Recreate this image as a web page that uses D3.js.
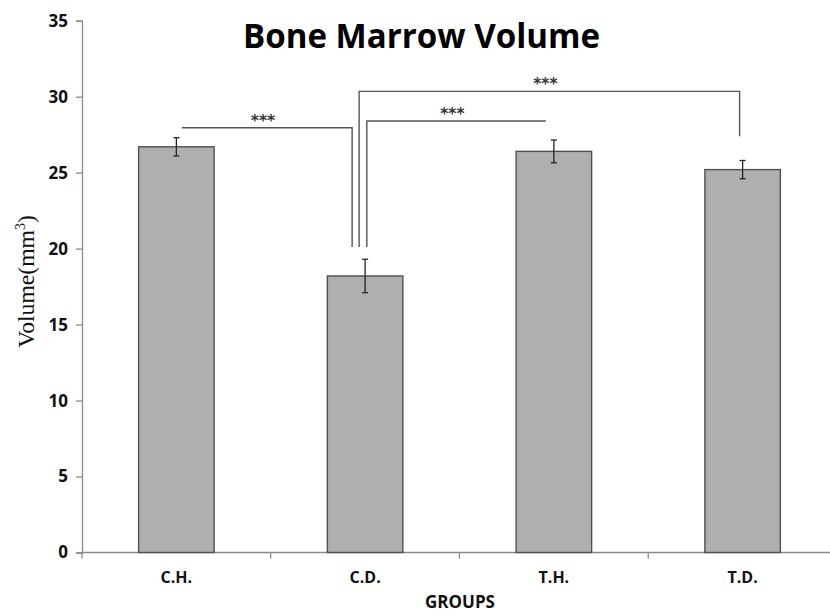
<!DOCTYPE html>
<html>
<head>
<meta charset="utf-8">
<script src="https://cdn.jsdelivr.net/npm/d3@7"></script>
<style>
  html, body { margin: 0; padding: 0; background: #fff; }
  svg { display: block; }
</style>
</head>
<body>
<svg id="chart" width="830" height="614"></svg>
<script>
// Group names, mean volumes and standard errors
const groups = ["C.H.", "C.D.", "T.H.", "T.D."];
const volumes = [26.7, 18.2, 26.4, 25.2];
const errors = [0.6, 1.1, 0.75, 0.6];
const yTicks = [0, 5, 10, 15, 20, 25, 30, 35];

// Significance brackets: from group, to group, bar height, drop ends (null = no drop), label
const bracketFrom = ["C.H.", "C.D.", "C.D."];
const bracketTo = ["C.D.", "T.D.", "T.H."];
const bracketLevel = [27.95, 30.35, 28.4];
const bracketFromEnd = [null, 20.1, 20.1];
const bracketToEnd = [20.1, 27.4, null];
const bracketLabel = ["***", "***", "***"];

const svg = d3.select("#chart");
const plotLeft = 82, plotRight = 837, plotTop = 20.7, plotBottom = 552.5;
const sansBold = "'Open Sans', Lato, sans-serif";

const x = d3.scaleBand().domain(groups).range([plotLeft, plotRight]).paddingInner(0).paddingOuter(0);
const y = d3.scaleLinear().domain([0, 35]).range([plotBottom, plotTop]);

const axisColor = "#8a8a8a";

// Scale a text element's font size so its advance width matches a target
function fitWidth(sel, target) {
  sel.each(function () {
    const fs = parseFloat(this.getAttribute("font-size"));
    const w = this.getComputedTextLength();
    if (w > 0) this.setAttribute("font-size", (fs * target / w).toFixed(2));
  });
}

// Y axis
const yAxis = svg.append("g")
  .attr("transform", `translate(${plotLeft},0)`)
  .call(d3.axisLeft(y).tickValues(yTicks).tickSize(6).tickPadding(8));
yAxis.select(".domain").attr("stroke", axisColor).attr("stroke-width", 1.3);
yAxis.selectAll(".tick line").attr("stroke", axisColor).attr("stroke-width", 1.3);
yAxis.selectAll(".tick text")
  .attr("font-family", sansBold)
  .attr("font-weight", "bold")
  .attr("font-size", 17)
  .attr("fill", "#111");

// X axis (ticks sit on band boundaries)
const boundaries = groups.map(g => x(g)).concat([plotRight]);
svg.append("line")
  .attr("x1", plotLeft).attr("x2", plotRight)
  .attr("y1", plotBottom).attr("y2", plotBottom)
  .attr("stroke", axisColor).attr("stroke-width", 1.3);
svg.append("g").selectAll("line").data(boundaries).join("line")
  .attr("x1", d => d).attr("x2", d => d)
  .attr("y1", plotBottom).attr("y2", plotBottom + 6)
  .attr("stroke", axisColor).attr("stroke-width", 1.3);

svg.append("g").selectAll("text").data(groups).join("text")
  .attr("x", d => x(d) + x.bandwidth() / 2)
  .attr("y", 583)
  .attr("text-anchor", "middle")
  .attr("font-family", sansBold)
  .attr("font-weight", "bold")
  .attr("font-size", 16)
  .attr("fill", "#111")
  .text(d => d);

// Bars
const barW = x.bandwidth() * 0.4;
const cx = g => x(g) + x.bandwidth() / 2;
svg.append("g").selectAll("rect").data(groups).join("rect")
  .attr("x", d => cx(d) - barW / 2)
  .attr("y", (d, i) => y(volumes[i]))
  .attr("width", barW)
  .attr("height", (d, i) => y(0) - y(volumes[i]))
  .attr("fill", "#afafaf")
  .attr("stroke", "#505050")
  .attr("stroke-width", 1.4);

// Error bars
const eb = svg.append("g").attr("stroke", "#222").attr("stroke-width", 1.3);
groups.forEach((g, i) => {
  const lo = y(volumes[i] - errors[i]), hi = y(volumes[i] + errors[i]);
  eb.append("line").attr("x1", cx(g)).attr("x2", cx(g)).attr("y1", lo).attr("y2", hi);
  eb.append("line").attr("x1", cx(g) - 3).attr("x2", cx(g) + 3).attr("y1", lo).attr("y2", lo);
  eb.append("line").attr("x1", cx(g) - 3).attr("x2", cx(g) + 3).attr("y1", hi).attr("y2", hi);
});

// Significance brackets
const fromOffset = [5.5, -6, 1.7];
const toOffset = [-13, -3, -8];
const br = svg.append("g");
bracketFrom.forEach((f, i) => {
  const x1 = cx(f) + fromOffset[i], x2 = cx(bracketTo[i]) + toOffset[i];
  const yl = y(bracketLevel[i]);
  const pts = [];
  if (bracketFromEnd[i] !== null) pts.push([x1, y(bracketFromEnd[i])]);
  pts.push([x1, yl], [x2, yl]);
  if (bracketToEnd[i] !== null) pts.push([x2, y(bracketToEnd[i])]);
  br.append("path")
    .attr("d", d3.line()(pts))
    .attr("fill", "none")
    .attr("stroke", "#555")
    .attr("stroke-width", 1.4);
  br.append("text")
    .attr("x", (x1 + x2) / 2 - 4)
    .attr("y", yl - 2)
    .attr("text-anchor", "middle")
    .attr("font-family", "'DejaVu Sans', sans-serif")
    .attr("font-weight", "bold")
    .attr("font-size", 15.5)
    .attr("fill", "#333")
    .text(bracketLabel[i]);
});

// Title
svg.append("text")
  .attr("x", 421.5).attr("y", 48)
  .attr("text-anchor", "middle")
  .attr("font-family", sansBold)
  .attr("font-weight", "bold")
  .attr("font-size", 32)
  .attr("fill", "#000")
  .text("Bone Marrow Volume")
  .call(fitWidth, 357);

// Axis titles
svg.append("text")
  .attr("transform", "translate(34,281.5) rotate(-90)")
  .attr("text-anchor", "middle")
  .attr("font-family", "'Liberation Serif', 'DejaVu Serif', serif")
  .attr("font-size", 23)
  .attr("fill", "#111")
  .html("Volume(mm<tspan dy='-9' font-size='14'>3</tspan><tspan dy='9'>)</tspan>")
  .call(fitWidth, 133);

svg.append("text")
  .attr("x", 460).attr("y", 608)
  .attr("text-anchor", "middle")
  .attr("font-family", sansBold)
  .attr("font-weight", "bold")
  .attr("font-size", 17)
  .attr("fill", "#111")
  .text("GROUPS");
</script>
</body>
</html>
